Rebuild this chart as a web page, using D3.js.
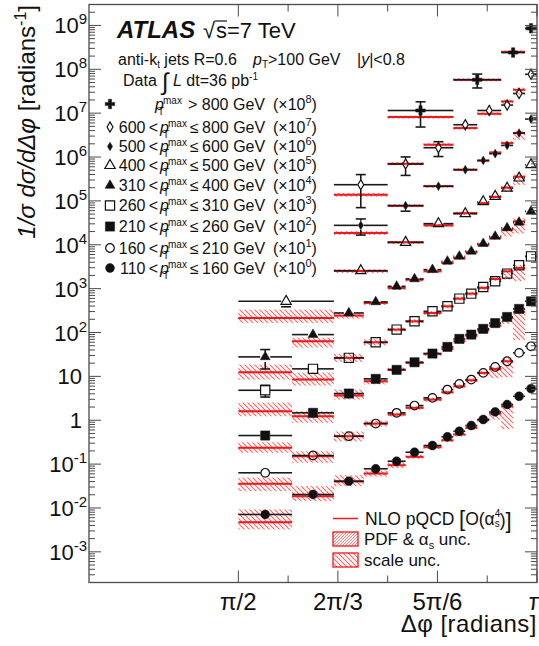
<!DOCTYPE html>
<html>
<head>
<meta charset="utf-8">
<title>ATLAS dijet azimuthal decorrelation</title>
<script src="https://d3js.org/d3.v7.min.js"></script>
<style>
  body { margin: 0; background: #fff; }
  svg text { font-family: "Liberation Sans", Arial, Helvetica, sans-serif; fill: #111; }
</style>
</head>
<body>
<div id="chart"></div>
<script>
"use strict"

var PI = Math.PI;

// bin edges of the delta-phi binning, in units of pi
var edgesPi = [0.5, 0.59, 0.66, 0.71, 0.75, 0.78, 0.81, 0.84, 0.86, 0.88, 0.90, 0.92, 0.94, 0.96, 0.98, 1.0];

// pT max slices (top to bottom as in the legend)
var ptLow  = [null, 600, 500, 400, 310, 260, 210, 160, 110];
var ptHigh = [800, 800, 600, 500, 400, 310, 260, 210, 160];
var scalePow = [8, 7, 6, 5, 4, 3, 2, 1, 0];
var markers = ["cross", "diamondOpen", "diamond", "triangleOpen", "triangle", "squareOpen", "square", "circleOpen", "circle"];

// which edges bound the bins of each slice
var binEdgeIdx = [
  [4, 8, 12, 14, 15],
  [2, 4, 6, 8, 10, 12, 13, 14, 15],
  [2, 4, 6, 8, 10, 11, 12, 13, 14, 15],
  [0, 2, 4, 6, 8, 10, 11, 12, 13, 14, 15],
  [0, 1, 2, 3, 4, 5, 6, 7, 8, 9, 10, 11, 12, 13, 14, 15],
  [0, 1, 2, 3, 4, 5, 6, 7, 8, 9, 10, 11, 12, 13, 14, 15],
  [0, 1, 2, 3, 4, 5, 6, 7, 8, 9, 10, 11, 12, 13, 14, 15],
  [0, 1, 2, 3, 4, 5, 6, 7, 8, 9, 10, 11, 12, 13, 14, 15],
  [0, 1, 2, 3, 4, 5, 6, 7, 8, 9, 10, 11, 12, 13, 14, 15]
];

// measured 1/sigma dsigma/ddphi (not multiplied)
var dataVals = [
  [0.115, 0.577, 2.41, 8.59],
  [0.0234, 0.0693, 0.163, 0.545, 1.15, 1.53, 2.81, 7.69],
  [0.0277, 0.0778, 0.216, 0.514, 0.838, 1.19, 1.84, 3.52, 7.34],
  [0.00514, 0.0257, 0.1135, 0.303, 0.511, 0.96, 1.27, 1.95, 3.32, 6.68],
  [0.00278, 0.00896, 0.0279, 0.0498, 0.1127, 0.166, 0.271, 0.419, 0.545, 0.708, 1.06, 1.55, 2.41, 3.24, 5.77],
  [0.00482, 0.01483, 0.0264, 0.0598, 0.1164, 0.180, 0.304, 0.395, 0.592, 0.769, 1.093, 1.47, 2.20, 3.40, 5.44],
  [0.00448, 0.01475, 0.0406, 0.0877, 0.1406, 0.2095, 0.331, 0.470, 0.715, 0.895, 1.21, 1.64, 2.26, 3.45, 5.14],
  [0.00634, 0.0157, 0.0432, 0.0841, 0.1475, 0.216, 0.324, 0.500, 0.675, 0.845, 1.20, 1.64, 2.21, 3.43, 4.85],
  [0.00711, 0.0203, 0.0408, 0.0782, 0.1164, 0.1866, 0.2654, 0.419, 0.561, 0.757, 1.04, 1.55, 2.28, 3.52, 5.27]
];

// total experimental uncertainty, fraction
var dataErr = [
  [0.58, 0.35, 0.2, 0.08],
  [0.7, 0.45, 0.37, 0.12, 0.1, 0.1, 0.1, 0.1],
  [0.4, 0.25, 0.1, 0.08, 0.06, 0.06, 0.06, 0.06, 0.06],
  [0.25, 0.1, 0.08, 0.06, 0.06, 0.05, 0.05, 0.05, 0.05, 0.05],
  [0.47, 0.2, 0.1, 0.08, 0.05, 0.05, 0.05, 0.05, 0.05, 0.05, 0.05, 0.05, 0.05, 0.05, 0.05],
  [0.3, 0.12, 0.08, 0.06, 0.05, 0.05, 0.05, 0.05, 0.05, 0.05, 0.05, 0.05, 0.05, 0.05, 0.05],
  [0.2, 0.1, 0.06, 0.05, 0.05, 0.05, 0.05, 0.05, 0.05, 0.05, 0.05, 0.05, 0.05, 0.05, 0.05],
  [0.1, 0.06, 0.05, 0.05, 0.05, 0.05, 0.05, 0.05, 0.05, 0.05, 0.05, 0.05, 0.05, 0.05, 0.05],
  [0.08, 0.05, 0.05, 0.05, 0.05, 0.05, 0.05, 0.05, 0.05, 0.05, 0.05, 0.05, 0.05, 0.05, 0.05]
];

// NLO pQCD prediction (null = no prediction)
var nloVals = [
  [0.0815, 0.577, 2.50, null],
  [0.0138, 0.0703, 0.191, 0.458, 0.968, 1.85, 3.41, null],
  [0.0186, 0.0778, 0.216, 0.514, 0.824, 1.27, 2.08, 3.52, null],
  [0.00215, 0.0251, 0.1135, 0.277, 0.525, 0.887, 1.23, 2.0, 3.56, null],
  [0.00124, 0.0063, 0.0243, 0.0472, 0.1037, 0.160, 0.248, 0.385, 0.50, 0.672, 1.00, 1.43, 2.21, 3.41, null],
  [0.0016, 0.00845, 0.0264, 0.0598, 0.1164, 0.180, 0.279, 0.395, 0.592, 0.769, 1.04, 1.66, 2.48, 2.96, null],
  [0.00235, 0.01233, 0.0366, 0.0773, 0.143, 0.203, 0.326, 0.423, 0.631, 0.849, 1.12, 1.44, 2.15, 2.95, null],
  [0.00356, 0.0151, 0.0432, 0.0841, 0.135, 0.1915, 0.296, 0.434, 0.594, 0.815, 1.20, 1.48, 2.21, null, null],
  [0.00475, 0.0186, 0.0402, 0.0611, 0.0944, 0.1466, 0.2427, 0.350, 0.472, 0.671, 1.0, 1.42, 2.08, null, null]
];

// scale uncertainty of the prediction, percent up / down
var scaleUp = [
  [8, 8, 8, 0],
  [10, 8, 8, 8, 8, 10, 12, 0],
  [10, 8, 8, 8, 8, 8, 10, 12, 0],
  [55, 10, 8, 8, 8, 8, 8, 10, 12, 0],
  [50, 21, 17, 11, 11, 11, 11, 11, 11, 11, 11, 11, 11, 17, 0],
  [58, 44, 23, 17, 11, 11, 11, 11, 11, 11, 11, 11, 11, 17, 0],
  [34, 30, 37, 17, 11, 11, 11, 11, 11, 11, 11, 11, 11, 17, 0],
  [39, 30, 28, 17, 11, 11, 11, 11, 11, 11, 11, 11, 17, 0, 0],
  [95, 69, 39, 17, 17, 11, 11, 11, 11, 11, 11, 11, 17, 0, 0]
];
var scaleDn = [
  [8, 8, 8, 0],
  [10, 8, 8, 8, 8, 15, 22, 0],
  [10, 8, 8, 8, 8, 8, 15, 30, 0],
  [23, 10, 8, 8, 8, 8, 8, 20, 35, 0],
  [32, 28, 15, 10, 10, 10, 10, 10, 10, 10, 10, 10, 30, 47, 0],
  [23, 27, 19, 15, 10, 10, 10, 10, 10, 10, 10, 10, 35, 50, 0],
  [23, 29, 19, 15, 10, 10, 10, 10, 10, 10, 10, 10, 27, 77, 0],
  [32, 29, 24, 15, 10, 10, 10, 10, 10, 10, 10, 38, 57, 0, 0],
  [32, 23, 22, 15, 15, 10, 10, 10, 10, 10, 10, 27, 70, 0, 0]
];
// PDF & alpha_s uncertainty, percent, per slice
var pdfUnc = [4, 4, 4, 5, 5, 5, 5, 5, 5];

var W = 539, H = 646;
var svg = d3.select('#chart').append('svg')
  .attr('width', W).attr('height', H)
  .style('background', '#fff');

var defs = svg.append('defs');
var pScale = defs.append('pattern').attr('id', 'hScale')
  .attr('patternUnits', 'userSpaceOnUse').attr('width', 5).attr('height', 5);
pScale.append('path').attr('d', 'M-1,-1 L6,6 M-1,4 L1,6 M4,-1 L6,1')
  .attr('stroke', '#ff4040').attr('stroke-width', 1.1).attr('stroke-opacity', 0.8);
var pPdf = defs.append('pattern').attr('id', 'hPdf')
  .attr('patternUnits', 'userSpaceOnUse').attr('width', 3).attr('height', 3);
pPdf.append('path').attr('d', 'M-1,4 L4,-1 M-1,1 L1,-1 M2,4 L4,2')
  .attr('stroke', '#ff4040').attr('stroke-width', 0.9).attr('stroke-opacity', 0.75);

// scales
var x = d3.scaleLinear().domain([PI / 4, PI]).range([89, 537]);
var y = d3.scaleLog().domain([2e-4, 3e9]).range([582.5, 4.5]);
var xL = x.range()[0], xR = x.range()[1], yT = y.range()[1], yB = y.range()[0];

var plot = svg.append('g');
var gBand = plot.append('g'), gNlo = plot.append('g'), gData = plot.append('g'), gMark = plot.append('g');

var markerSpec = {
  cross:        {sym: d3.symbolCross,    size: 50, open: false, gx: 4.5, gy: 4.5},
  diamondOpen:  {sym: d3.symbolDiamond,  size: 30, open: true,  gx: 3.2, gy: 5.2},
  diamond:      {sym: d3.symbolDiamond,  size: 22, open: false, gx: 2.8, gy: 4.6},
  triangleOpen: {sym: d3.symbolTriangle, size: 46, open: true,  gx: 5, gy: 5},
  triangle:     {sym: d3.symbolTriangle, size: 42, open: false, gx: 5, gy: 5},
  squareOpen:   {sym: d3.symbolSquare,   size: 85, open: true,  gx: 4.8, gy: 4.8},
  square:       {sym: d3.symbolSquare,   size: 85, open: false, gx: 4.8, gy: 4.8},
  circleOpen:   {sym: d3.symbolCircle,   size: 58, open: true,  gx: 4.4, gy: 4.4},
  circle:       {sym: d3.symbolCircle,   size: 62, open: false, gx: 4.5, gy: 4.5}
};

function drawMarker(g, type, cx, cy) {
  var sp = markerSpec[type];
  g.append('path')
    .attr('d', d3.symbol(sp.sym, sp.size)())
    .attr('transform', 'translate(' + cx + ',' + cy + ')')
    .attr('fill', sp.open ? 'none' : '#111')
    .attr('stroke', '#111')
    .attr('stroke-width', sp.open ? 1.2 : 0.5);
}

function seg(g, x1, y1, x2, y2, col, w) {
  g.append('line').attr('x1', x1).attr('y1', y1).attr('x2', x2).attr('y2', y2)
    .attr('stroke', col).attr('stroke-width', w);
}

dataVals.forEach(function(vals, s) {
  var mult = Math.pow(10, scalePow[s]);
  var sp = markerSpec[markers[s]];
  vals.forEach(function(v, i) {
    var xl = x(edgesPi[binEdgeIdx[s][i]] * PI);
    var xr = x(edgesPi[binEdgeIdx[s][i + 1]] * PI);
    var xc = (xl + xr) / 2;
    var th = nloVals[s][i];
    if (th !== null) {
      var t = th * mult;
      gBand.append('rect')
        .attr('x', xl).attr('width', xr - xl)
        .attr('y', y(t * (1 + scaleUp[s][i] / 100)))
        .attr('height', y(t * (1 - scaleDn[s][i] / 100)) - y(t * (1 + scaleUp[s][i] / 100)))
        .attr('fill', 'url(#hScale)');
      gBand.append('rect')
        .attr('x', xl).attr('width', xr - xl)
        .attr('y', y(t * (1 + pdfUnc[s] / 100)))
        .attr('height', y(t * (1 - pdfUnc[s] / 100)) - y(t * (1 + pdfUnc[s] / 100)))
        .attr('fill', 'url(#hPdf)');
      seg(gNlo, xl, y(t), xr, y(t), '#f01818', 2);
    }
    var yc = y(v * mult);
    // horizontal bin line with a gap for the marker
    seg(gData, xl, yc, xc - sp.gx, yc, '#1a1a1a', 1.6);
    seg(gData, xc + sp.gx, yc, xr, yc, '#1a1a1a', 1.6);
    var yt = y(v * mult * (1 + dataErr[s][i]));
    var yb = y(v * mult * (1 - dataErr[s][i]));
    if (yc - yt > sp.gy) {
      seg(gData, xc, yt, xc, yc - sp.gy, '#1a1a1a', 1.6);
      seg(gData, xc - 5, yt, xc + 5, yt, '#1a1a1a', 1.6);
    }
    if (yb - yc > sp.gy) {
      seg(gData, xc, yc + sp.gy, xc, yb, '#1a1a1a', 1.6);
      seg(gData, xc - 5, yb, xc + 5, yb, '#1a1a1a', 1.6);
    }
    drawMarker(gMark, markers[s], xc, yc);
  });
});

// frame and ticks
var axes = svg.append('g');
axes.append('rect').attr('x', xL).attr('y', yT)
  .attr('width', xR - xL).attr('height', yB - yT)
  .attr('fill', 'none').attr('stroke', '#4a4a4a').attr('stroke-width', 1.3);

for (var k = -4; k <= 9; k++) {
  for (var m = 1; m <= 9; m++) {
    var tv = m * Math.pow(10, k);
    if (tv < 2e-4 || tv > 3e9) continue;
    var yy = y(tv), len = (m === 1) ? 12 : 6;
    seg(axes, xL, yy, xL + len, yy, '#4a4a4a', 1);
    seg(axes, xR - len, yy, xR, yy, '#4a4a4a', 1);
  }
}
var xMajor = [PI / 2, 2 * PI / 3, 5 * PI / 6, PI];
var xMinor = [7 * PI / 12, 3 * PI / 4, 11 * PI / 12];
var xMajorLabels = ["\u03c0/2", "2\u03c0/3", "5\u03c0/6", "\u03c0"];
xMajor.forEach(function(t) {
  seg(axes, x(t), yB, x(t), yB - 12, '#4a4a4a', 1);
  seg(axes, x(t), yT, x(t), yT + 12, '#4a4a4a', 1);
});
xMinor.forEach(function(t) {
  seg(axes, x(t), yB, x(t), yB - 7, '#4a4a4a', 1);
  seg(axes, x(t), yT, x(t), yT + 7, '#4a4a4a', 1);
});
xMajor.forEach(function(t, i) {
  svg.append('text').attr('x', x(t)).attr('y', 610)
    .attr('text-anchor', 'middle').attr('font-size', 24).text(xMajorLabels[i]);
});

// y tick labels
for (var e = -3; e <= 9; e++) {
  var ty = y(Math.pow(10, e)) + 8;
  if (e === 0 || e === 1) {
    svg.append('text').attr('x', 82).attr('y', ty).attr('text-anchor', 'end')
      .attr('font-size', 22).text(e === 0 ? '1' : '10');
  } else {
    var tl = svg.append('text').attr('x', 87).attr('y', ty).attr('text-anchor', 'end').attr('font-size', 22);
    tl.append('tspan').text('10');
    tl.append('tspan').attr('dy', -9).attr('font-size', 15).text(e < 0 ? '-' + (-e) : e);
  }
}

// axis titles
svg.append('text').attr('x', 537).attr('y', 632).attr('text-anchor', 'end')
  .attr('font-size', 24).attr('letter-spacing', 0.5).text('\u0394\u03c6 [radians]');
var ytitle = svg.append('text').attr('transform', 'translate(35,5) rotate(-90)')
  .attr('text-anchor', 'end').attr('font-size', 24);
ytitle.append('tspan').attr('font-style', 'italic').text('1/\u03c3 d\u03c3/d\u0394\u03c6');
ytitle.append('tspan').text(' [radians');
ytitle.append('tspan').attr('dy', -9).attr('font-size', 16).text('-1');
ytitle.append('tspan').attr('dy', 9).text(']');

// ATLAS label block
var lab = svg.append('g');
lab.append('text').attr('x', 117).attr('y', 38).attr('font-size', 24)
  .attr('font-weight', 'bold').attr('font-style', 'italic').text('ATLAS');
lab.append('text').attr('x', 203).attr('y', 38).attr('font-size', 22).text('\u221a');
lab.append('text').attr('x', 216).attr('y', 38).attr('font-size', 22).text('s=7 TeV');
seg(lab, 215, 21, 227, 21, '#111', 1.2);

var l1 = lab.append('text').attr('x', 118).attr('y', 65).attr('font-size', 16);
l1.append('tspan').text('anti-k');
l1.append('tspan').attr('dy', 3).attr('font-size', 10).text('t');
l1.append('tspan').attr('dy', -3).text(' jets R=0.6');
var l1b = lab.append('text').attr('x', 253).attr('y', 65).attr('font-size', 16);
l1b.append('tspan').attr('font-style', 'italic').text('p');
l1b.append('tspan').attr('dy', 3).attr('font-size', 10).text('T');
l1b.append('tspan').attr('dy', -3).text('>100 GeV');
var l1c = lab.append('text').attr('x', 357).attr('y', 65).attr('font-size', 16);
l1c.append('tspan').text('|');
l1c.append('tspan').attr('font-style', 'italic').text('y');
l1c.append('tspan').text('|<0.8');

lab.append('text').attr('x', 123).attr('y', 86).attr('font-size', 16).text('Data');
lab.append('text').attr('x', 162).attr('y', 90).attr('font-size', 24).text('\u222b');
var l2 = lab.append('text').attr('x', 173).attr('y', 86).attr('font-size', 16);
l2.append('tspan').attr('font-style', 'italic').text('L');
l2.append('tspan').text(' dt=36 pb');
l2.append('tspan').attr('dy', -6).attr('font-size', 10).text('-1');

var rowY = [104, 127, 146.5, 165.5, 185.5, 205.5, 226.5, 248, 268];
rowY.forEach(function(ry, s) {
  drawMarker(lab, markers[s], 110, ry);
  var by = ry + 5.5;
  var px = (s === 0) ? 155 : 160;
  if (s > 0) {
    lab.append('text').attr('x', 158).attr('y', by).attr('text-anchor', 'end')
      .attr('font-size', 16).text(ptLow[s] + '\u2009<');
  }
  var pt = lab.append('text').attr('x', px).attr('y', by).attr('font-size', 16);
  pt.append('tspan').attr('font-style', 'italic').text('p');
  pt.append('tspan').attr('dx', -6).attr('dy', 5).attr('font-size', 10).text('T');
  pt.append('tspan').attr('dx', -1).attr('dy', -11).attr('font-size', 10).text('max');
  lab.append('text').attr('x', s === 0 ? 188 : 190).attr('y', by).attr('font-size', 16)
    .text((s === 0 ? '> ' : '\u2264\u2009') + ptHigh[s] + ' GeV');
  var tx = lab.append('text').attr('x', 273).attr('y', by).attr('font-size', 16);
  tx.append('tspan').text('(\u00d710');
  tx.append('tspan').attr('dy', -7).attr('font-size', 11).text(scalePow[s]);
  tx.append('tspan').attr('dy', 7).text(')');
});

// theory legend
var leg = svg.append('g');
seg(leg, 333, 518.5, 358, 518.5, '#f01818', 1.5);
leg.append('text').attr('x', 365).attr('y', 524.5).attr('font-size', 17.5).text('NLO pQCD');
var lt = leg.append('text').attr('x', 459).attr('y', 526).attr('font-size', 22);
lt.append('tspan').text('[');
lt.append('tspan').attr('dy', -1.5).attr('font-size', 17.5).text('O(\u03b1');
lt.append('tspan').attr('dy', -7.5).attr('font-size', 10).text('4');
lt.append('tspan').attr('dx', -5.6).attr('dy', 10).attr('font-size', 10).text('s');
lt.append('tspan').attr('dy', -1).attr('font-size', 17.5).text(')');
lt.append('tspan').attr('dy', 1.5).text(']');

leg.append('rect').attr('x', 333).attr('y', 532).attr('width', 25).attr('height', 14)
  .attr('fill', 'url(#hPdf)').attr('stroke', '#f01818').attr('stroke-width', 1.3);
var t2 = leg.append('text').attr('x', 364).attr('y', 545).attr('font-size', 17);
t2.append('tspan').text('PDF & \u03b1');
t2.append('tspan').attr('dy', 4).attr('font-size', 11).text('s');
t2.append('tspan').attr('dy', -4).text(' unc.');

leg.append('rect').attr('x', 333).attr('y', 553).attr('width', 25).attr('height', 14)
  .attr('fill', 'url(#hScale)').attr('stroke', '#f01818').attr('stroke-width', 1.3);
leg.append('text').attr('x', 364).attr('y', 565.5).attr('font-size', 17).text('scale unc.');
</script>
</body>
</html>
